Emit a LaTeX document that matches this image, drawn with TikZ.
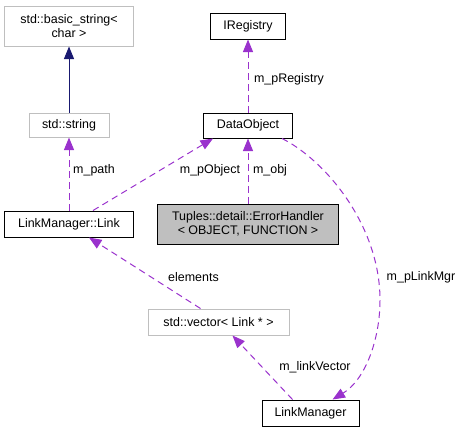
\documentclass[tikz,border=0pt]{standalone}
\usepackage{fontspec}
\setmainfont{Liberation Sans}
\usetikzlibrary{arrows.meta}
\definecolor{edgepurple}{HTML}{9A32CD}
\definecolor{edgenavy}{HTML}{191970}
\definecolor{boxgray}{HTML}{BFBFBF}
\begin{document}
\begin{tikzpicture}[x=1bp,y=-1bp,
  every node/.style={font=\fontsize{12.5}{14.5}\selectfont},
  cls/.style={draw=black,line width=1bp,inner sep=0pt,align=center},
  extcls/.style={draw=boxgray,line width=1bp,inner sep=0pt,align=center},
  mainbox/.style={draw=black,fill=boxgray,line width=1bp,inner sep=0pt,align=center},
  usage/.style={draw=edgepurple,line width=1bp,dash pattern=on 6.5bp off 4.5bp,
    -{Triangle[length=12.5bp,width=10bp,fill=edgepurple]}},
  inherit/.style={draw=edgenavy,line width=1bp,
    -{Triangle[length=12.5bp,width=10bp,fill=edgenavy]}},
  lbl/.style={inner sep=0pt}]
\useasboundingbox (0,0) rectangle (463,432);
% nodes
\node[extcls,minimum width=128bp,minimum height=40bp] (bstr) at (69,26) {std::basic\_string<\\char >};
\node[extcls,minimum width=80bp,minimum height=24bp] (strg) at (69,125) {std::string};
\node[cls,minimum width=129bp,minimum height=26bp] (link) at (69,224) {LinkManager::Link};
\node[cls,minimum width=75bp,minimum height=26bp] (ireg) at (248,26) {IRegistry};
\node[cls,minimum width=89bp,minimum height=25bp] (data) at (248,125.5) {DataObject};
\node[mainbox,minimum width=181bp,minimum height=40bp] (err) at (248,224) {Tuples::detail::ErrorHandler\\< OBJECT, FUNCTION >};
\node[extcls,minimum width=141bp,minimum height=26bp] (vec) at (218.5,322) {std::vector< Link * >};
\node[cls,minimum width=97bp,minimum height=26bp] (lmgr) at (310.5,413) {LinkManager};
% edges
\draw[inherit] (strg.north) -- (bstr.south);
\draw[usage] (link.north) -- (strg.south);
\draw[usage] ([xshift=24bp]link.north) -- ([xshift=-35bp]data.south);
\draw[usage] (data.north) -- (ireg.south);
\draw[usage] (err.north) -- (data.south);
\draw[usage] ([xshift=-18bp]vec.north) -- ([xshift=20bp]link.south);
\draw[usage] ([xshift=-18bp]lmgr.north) -- ([xshift=14bp]vec.south);
\draw[usage] ([xshift=-11bp]data.south east) .. controls (325,160) and (380,225) .. (380,300)
  .. controls (380,340) and (365,380) .. ([xshift=22bp]lmgr.north);
% labels
\node[lbl] (lpath) at (94,170) {m\_path};
\node[lbl] (lpobj) at (210,170) {m\_pObject};
\node[lbl] (lpreg) at (289,79) {m\_pRegistry};
\node[lbl] (lobj) at (270,170) {m\_obj};
\node[lbl] (lplm) at (421,277) {m\_pLinkMgr};
\node[lbl] (lelem) at (193.5,277) {elements};
\node[lbl] (llv) at (315,367) {m\_linkVector};
\end{tikzpicture}
\end{document}
